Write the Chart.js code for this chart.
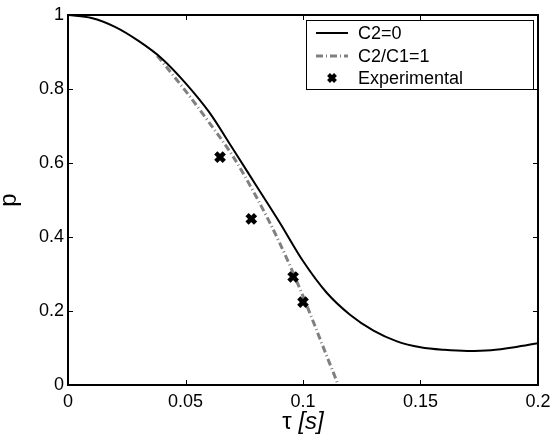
<!DOCTYPE html>
<html>
<head>
<meta charset="utf-8">
<script src="https://cdn.jsdelivr.net/npm/chart.js@4/dist/chart.umd.min.js"></script>
<style>
  html,body{margin:0;padding:0;background:#fff}
  #wrap{width:550px;height:438px}
</style>
</head>
<body>
<div id="wrap"><canvas id="c" width="550" height="438"></canvas></div>
<script>
// series
const tauSolid = [0,0.01,0.02,0.03,0.04,0.05,0.06,0.07,0.08,0.09,0.10,0.11,0.12,0.13,0.14,0.15,0.16,0.17,0.18,0.19,0.20]
const pSolid   = [1,0.992,0.968,0.93,0.882,0.816,0.738,0.64,0.54,0.44,0.335,0.25,0.19,0.147,0.118,0.102,0.095,0.092,0.094,0.102,0.113]

const tauDash = [0.038,0.045,0.05,0.06,0.07,0.08,0.09,0.10,0.11,0.115]
const pDash   = [0.89,0.835,0.795,0.71,0.62,0.51,0.385,0.24,0.08,0.0]

const tauExp = [0.0647,0.078,0.0958,0.100]
const pExp   = [0.616,0.449,0.292,0.224]

const xTicks = [0,0.05,0.1,0.15,0.2]
const xTickLabels = ['0','0.05','0.1','0.15','0.2']
const yTicks = [0,0.2,0.4,0.6,0.8,1]
const yTickLabels = ['0','0.2','0.4','0.6','0.8','1']

const labels = ['C2=0','C2/C1=1','Experimental']

const FONT = '"Liberation Sans", Arial, sans-serif'
const zip = (xs,ys)=>xs.map((x,i)=>({x:x,y:ys[i]}))

// box, inward ticks, legend and axis titles
const decor = {
  id:'decor',
  afterDraw(chart){
    const ctx = chart.ctx
    const a = chart.chartArea
    const xs = chart.scales.x, ys = chart.scales.y
    ctx.save()
    ctx.strokeStyle = '#000'
    ctx.lineWidth = 1
    const tl = 5
    xTicks.forEach(v=>{
      const px = Math.round(xs.getPixelForValue(v))+0.5
      ctx.beginPath()
      ctx.moveTo(px,a.bottom); ctx.lineTo(px,a.bottom-tl)
      ctx.moveTo(px,a.top); ctx.lineTo(px,a.top+tl)
      ctx.stroke()
    })
    yTicks.forEach(v=>{
      const py = Math.round(ys.getPixelForValue(v))+0.5
      ctx.beginPath()
      ctx.moveTo(a.left,py); ctx.lineTo(a.left+tl,py)
      ctx.moveTo(a.right,py); ctx.lineTo(a.right-tl,py)
      ctx.stroke()
    })
    ctx.lineWidth = 2
    ctx.strokeRect(a.left,a.top,a.right-a.left,a.bottom-a.top)

    // legend, anchored to the plot's top-right corner
    const lw = 227, lh = 69
    const lx = a.right - 5 - lw, ly = a.top + 5
    ctx.fillStyle = '#fff'
    ctx.fillRect(lx,ly,lw,lh)
    ctx.lineWidth = 1
    ctx.strokeRect(lx+0.5,ly+0.5,lw,lh)
    ctx.font = '18px ' + FONT
    ctx.textBaseline = 'middle'
    ctx.textAlign = 'left'
    ctx.fillStyle = '#000'
    const rows = [ly+13,ly+36,ly+58]
    const sx = lx+10, tx = lx+52
    const ds = chart.data.datasets
    ctx.strokeStyle = ds[0].borderColor; ctx.lineWidth = ds[0].borderWidth
    ctx.beginPath(); ctx.moveTo(sx,rows[0]); ctx.lineTo(sx+32,rows[0]); ctx.stroke()
    ctx.strokeStyle = ds[1].borderColor; ctx.lineWidth = ds[1].borderWidth
    ctx.setLineDash(ds[1].borderDash)
    ctx.beginPath(); ctx.moveTo(sx,rows[1]); ctx.lineTo(sx+32,rows[1]); ctx.stroke()
    ctx.setLineDash([])
    ctx.strokeStyle = '#000'; ctx.lineWidth = 4
    const r = 3.5, cx = sx+16, cy = rows[2]
    ctx.beginPath()
    ctx.moveTo(cx-r,cy-r); ctx.lineTo(cx+r,cy+r)
    ctx.moveTo(cx-r,cy+r); ctx.lineTo(cx+r,cy-r)
    ctx.stroke()
    labels.forEach((t,i)=>ctx.fillText(t,tx,rows[i]+1))

    // axis titles
    ctx.font = '24px ' + FONT
    ctx.textAlign = 'center'
    ctx.save()
    ctx.translate(9,(a.top+a.bottom)/2)
    ctx.rotate(-Math.PI/2)
    ctx.fillText('p',0,0)
    ctx.restore()
    const mid = (a.left+a.right)/2
    const w1 = ctx.measureText('τ ').width
    ctx.font = 'italic 24px ' + FONT
    const w2 = ctx.measureText('[s]').width
    const x0 = mid - (w1+w2)/2
    ctx.textAlign = 'left'
    ctx.font = '24px ' + FONT
    ctx.fillText('τ ',x0,422)
    ctx.font = 'italic 24px ' + FONT
    ctx.fillText('[s]',x0+w1,422)
    ctx.restore()
  }
}

new Chart(document.getElementById('c'),{
  type:'scatter',
  data:{
    datasets:[
      {label:labels[0],data:zip(tauSolid,pSolid),showLine:true,borderColor:'#000',borderWidth:2,
       pointRadius:0,cubicInterpolationMode:'monotone',order:2},
      {label:labels[1],data:zip(tauDash,pDash),showLine:true,borderColor:'#808080',borderWidth:3,
       borderDash:[7,3,1,3],pointRadius:0,cubicInterpolationMode:'monotone',order:3},
      {label:labels[2],data:zip(tauExp,pExp),showLine:false,pointStyle:'crossRot',pointRadius:6,
       borderColor:'#000',backgroundColor:'#000',pointBorderWidth:4.5,order:1}
    ]
  },
  options:{
    responsive:false,
    animation:false,
    layout:{padding:{top:15,right:12,left:0,bottom:0}},
    plugins:{legend:{display:false},tooltip:{enabled:false}},
    scales:{
      x:{type:'linear',min:0,max:0.2,
        grid:{display:false,drawTicks:false},border:{display:false},
        afterBuildTicks:s=>{s.ticks = xTicks.map(v=>({value:v}))},
        afterFit:s=>{s.height = 53; s.paddingRight = 0; s.paddingLeft = 0},
        ticks:{color:'#000',font:{family:FONT,size:18},padding:6,maxRotation:0,
          callback:(v)=>xTickLabels[xTicks.indexOf(v)]}
      },
      y:{type:'linear',min:0,max:1,
        grid:{display:false,drawTicks:false},border:{display:false},
        afterBuildTicks:s=>{s.ticks = yTicks.map(v=>({value:v}))},
        afterFit:s=>{s.width = 68; s.paddingTop = 0; s.paddingBottom = 0},
        ticks:{color:'#000',font:{family:FONT,size:18},padding:4,
          callback:(v)=>yTickLabels[yTicks.indexOf(v)]}
      }
    }
  },
  plugins:[decor]
})
</script>
</body>
</html>
